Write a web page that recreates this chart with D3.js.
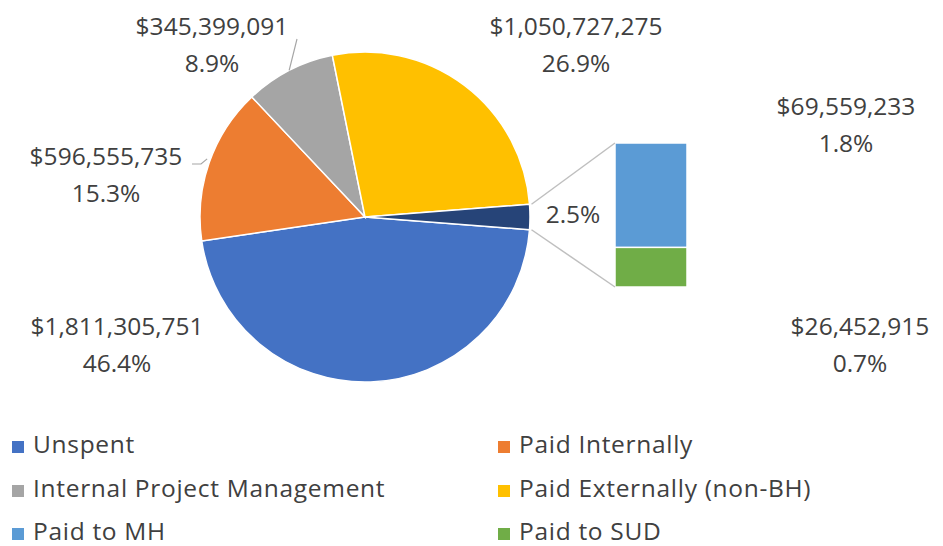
<!DOCTYPE html>
<html>
<head>
<meta charset="utf-8">
<script src="https://d3js.org/d3.v7.min.js"></script>
<style>
  body { margin: 0; background: #fff; }
  #chart { display: block; }
  .lbl { font-family: "Open Sans", sans-serif; font-size: 24.5px; fill: #404040; }
  .legend text { letter-spacing: 0.7px; }
  .leader { fill: none; stroke: #a6a6a6; stroke-width: 1.2px; }
  .connector { stroke: #bfbfbf; stroke-width: 1.5px; }
</style>
</head>
<body>
<svg id="chart"></svg>
<script>
// data
var categories = ["Unspent", "Paid Internally", "Internal Project Management",
                  "Paid Externally (non-BH)", "Paid to MH", "Paid to SUD"];
var amounts = [1811305751, 596555735, 345399091, 1050727275, 69559233, 26452915];
var colors = ["#4472c4", "#ed7d31", "#a5a5a5", "#ffc000", "#5b9bd5", "#70ad47"];
var otherColor = "#264478";

var width = 943, height = 546;
var cx = 365, cy = 217, radius = 165;

var svg = d3.select("#chart")
    .attr("width", width)
    .attr("height", height);

var total = d3.sum(amounts);
var fmtMoney = d3.format("$,");
var fmtPct = d3.format(".1%");

// first four go in the main pie, last two are rolled into "Other"
var rows = categories.map((c, i) => ({name: c, value: amounts[i], color: colors[i]}));
var mainRows = rows.slice(0, 4);
var subRows = rows.slice(4);
var otherValue = d3.sum(subRows, d => d.value);
var pieRows = mainRows.concat([{name: "Other", value: otherValue, color: otherColor}]);

// Other slice is centred on the 3 o'clock direction
var otherHalf = Math.PI * otherValue / total;
var start = Math.PI / 2 + otherHalf;

var pie = d3.pie()
    .sort(null)
    .value(d => d.value)
    .startAngle(start)
    .endAngle(start + 2 * Math.PI);

var arc = d3.arc().innerRadius(0).outerRadius(radius);
var arcs = pie(pieRows);

var g = svg.append("g").attr("transform", "translate(" + cx + "," + cy + ")");

g.selectAll("path.slice")
    .data(arcs)
    .enter().append("path")
    .attr("class", "slice")
    .attr("d", arc)
    .attr("fill", d => d.data.color)
    .attr("stroke", "#fff")
    .attr("stroke-width", 1.5);

function edgePoint(a) {
  return [cx + radius * Math.sin(a), cy - radius * Math.cos(a)];
}

// secondary stacked bar
var x = d3.scaleBand().domain(["Other"]).range([615, 687]).padding(0);
var y = d3.scaleLinear().domain([0, otherValue]).range([287, 143]);

var stackData = [{}];
subRows.forEach(d => { stackData[0][d.name] = d.value; });
var stack = d3.stack().keys(subRows.map(d => d.name).reverse());
var layers = stack(stackData);

svg.selectAll("rect.sub")
    .data(layers)
    .enter().append("rect")
    .attr("class", "sub")
    .attr("x", x("Other"))
    .attr("width", x.bandwidth())
    .attr("y", d => y(d[0][1]))
    .attr("height", d => y(d[0][0]) - y(d[0][1]))
    .attr("fill", d => rows.find(r => r.name === d.key).color)
    .attr("stroke", "#fff")
    .attr("stroke-width", 1.5);

// connector lines from Other slice to the bar
var otherArc = arcs[4];
var pTop = edgePoint(otherArc.startAngle), pBot = edgePoint(otherArc.endAngle);
svg.append("line").attr("class", "connector")
    .attr("x1", pTop[0] + 2).attr("y1", pTop[1])
    .attr("x2", x("Other")).attr("y2", y(otherValue));
svg.append("line").attr("class", "connector")
    .attr("x1", pBot[0] + 2).attr("y1", pBot[1])
    .attr("x2", x("Other")).attr("y2", y(0));

// data labels (anchor = centre of text, baseline of first line)
var labelPos = {
  "Unspent": [117, 335],
  "Paid Internally": [106, 165],
  "Internal Project Management": [212, 35],
  "Paid Externally (non-BH)": [576, 35],
  "Paid to MH": [846, 115],
  "Paid to SUD": [860, 335]
};
var lineGap = 37;

rows.forEach(d => {
  var p = labelPos[d.name];
  var t = svg.append("text").attr("class", "lbl").attr("text-anchor", "middle");
  t.append("tspan").attr("x", p[0]).attr("y", p[1]).text(fmtMoney(d.value));
  t.append("tspan").attr("x", p[0]).attr("y", p[1] + lineGap).text(fmtPct(d.value / total));
});

svg.append("text").attr("class", "lbl")
    .attr("text-anchor", "middle")
    .attr("x", 573).attr("y", 223)
    .text(fmtPct(otherValue / total));

// leader lines
var midAngle = a => (a.startAngle + a.endAngle) / 2;
var lead = d3.line();
var pGray = edgePoint(midAngle(arcs[2]));
svg.append("path").attr("class", "leader")
    .attr("d", lead([pGray, [297, 39]]));
var pOrange = edgePoint(midAngle(arcs[1]));
svg.append("path").attr("class", "leader")
    .attr("d", lead([[pOrange[0] - 2, pOrange[1] - 4], [201, 164], [192, 164]]));

// legend, two columns
var legendCols = [12, 498], legendRows = [453, 497, 540];
var legend = svg.selectAll("g.legend")
    .data(rows)
    .enter().append("g")
    .attr("class", "legend")
    .attr("transform", (d, i) => "translate(" + legendCols[i % 2] + "," + legendRows[Math.floor(i / 2)] + ")");

legend.append("rect")
    .attr("x", 0).attr("y", -12)
    .attr("width", 12).attr("height", 12)
    .attr("fill", d => d.color);

legend.append("text")
    .attr("class", "lbl")
    .attr("x", 21).attr("y", 0)
    .text(d => d.name);
</script>
</body>
</html>
